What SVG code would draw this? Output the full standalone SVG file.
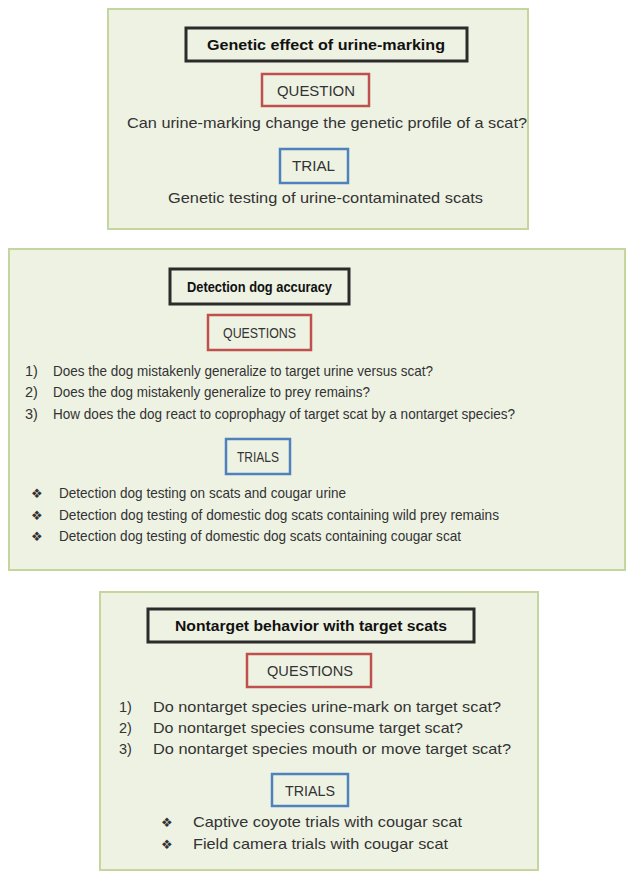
<svg xmlns="http://www.w3.org/2000/svg" width="627" height="873" viewBox="0 0 627 873">
<style>
.panel{fill:#eef2e3;stroke:#c4d69e;stroke-width:2}
.tbox{fill:#eef2e3;stroke:#2b2b2b;stroke-width:3}
.qbox{fill:#eef2e3;stroke:#c0504d;stroke-width:2.5}
.rbox{fill:#eef2e3;stroke:#4f81bd;stroke-width:2.5}
text{font-family:"Liberation Sans",Arial,sans-serif;font-size:14.5px;fill:#333}
.b{font-weight:bold;fill:#111}
.c{text-anchor:middle}
.bul{font-family:"DejaVu Sans",sans-serif;font-size:13px;fill:#333}
</style>
<rect width="627" height="873" fill="#ffffff"/>
<g id="panel1">
<rect class="panel" x="108" y="9" width="420" height="220"/>
<rect class="tbox" x="186" y="28" width="281" height="33"/>
<text class="b" x="207" y="50" textLength="238" lengthAdjust="spacingAndGlyphs">Genetic effect of  urine-marking</text>
<rect class="qbox" x="262" y="74" width="107" height="32"/>
<text x="277" y="96" textLength="78" lengthAdjust="spacingAndGlyphs">QUESTION</text>
<text x="127" y="128" textLength="400" lengthAdjust="spacingAndGlyphs">Can urine-marking change the genetic profile of a scat?</text>
<rect class="rbox" x="280" y="149" width="68" height="34"/>
<text x="292" y="171" textLength="43" lengthAdjust="spacingAndGlyphs">TRIAL</text>
<text x="168" y="203" textLength="315" lengthAdjust="spacingAndGlyphs">Genetic testing of urine-contaminated scats</text>
</g>
<g id="panel2">
<rect class="panel" x="9" y="249" width="616" height="321"/>
<rect class="tbox" x="170" y="269" width="179" height="35"/>
<text class="b" x="187" y="292" textLength="145" lengthAdjust="spacingAndGlyphs">Detection dog accuracy</text>
<rect class="qbox" x="208" y="315" width="103" height="35"/>
<text x="223" y="338" textLength="73" lengthAdjust="spacingAndGlyphs">QUESTIONS</text>
<text x="25" y="376">1)</text>
<text x="53" y="376" textLength="380" lengthAdjust="spacingAndGlyphs">Does the dog mistakenly generalize to target urine versus scat?</text>
<text x="25" y="397">2)</text>
<text x="53" y="397" textLength="317" lengthAdjust="spacingAndGlyphs">Does the dog mistakenly generalize to prey remains?</text>
<text x="25" y="419">3)</text>
<text x="53" y="419" textLength="462" lengthAdjust="spacingAndGlyphs">How does the dog react to coprophagy of target scat by a nontarget species?</text>
<rect class="rbox" x="226" y="439" width="64" height="35"/>
<text x="237" y="462" textLength="42" lengthAdjust="spacingAndGlyphs">TRIALS</text>
<text class="bul" x="31" y="498">❖</text>
<text x="59" y="498" textLength="287" lengthAdjust="spacingAndGlyphs">Detection dog testing on scats and cougar urine</text>
<text class="bul" x="31" y="520">❖</text>
<text x="59" y="520" textLength="440" lengthAdjust="spacingAndGlyphs">Detection dog testing of domestic dog scats containing wild prey remains</text>
<text class="bul" x="31" y="541">❖</text>
<text x="59" y="541" textLength="402" lengthAdjust="spacingAndGlyphs">Detection dog testing of domestic dog scats containing cougar scat</text>
</g>
<g id="panel3">
<rect class="panel" x="100" y="592" width="438" height="278"/>
<rect class="tbox" x="148" y="609" width="326" height="33"/>
<text class="b" x="175" y="631" textLength="272" lengthAdjust="spacingAndGlyphs">Nontarget behavior with target scats</text>
<rect class="qbox" x="247" y="654" width="124" height="33"/>
<text x="267" y="676" textLength="86" lengthAdjust="spacingAndGlyphs">QUESTIONS</text>
<text x="119" y="712">1)</text>
<text x="153" y="712" textLength="348" lengthAdjust="spacingAndGlyphs">Do nontarget species urine-mark on target scat?</text>
<text x="119" y="733">2)</text>
<text x="153" y="733" textLength="310" lengthAdjust="spacingAndGlyphs">Do nontarget species consume target scat?</text>
<text x="119" y="754">3)</text>
<text x="153" y="754" textLength="358" lengthAdjust="spacingAndGlyphs">Do nontarget species mouth or move target scat?</text>
<rect class="rbox" x="272" y="774" width="76" height="32"/>
<text x="285" y="796" textLength="50" lengthAdjust="spacingAndGlyphs">TRIALS</text>
<text class="bul" x="161" y="827">❖</text>
<text x="193" y="827" textLength="269" lengthAdjust="spacingAndGlyphs">Captive coyote trials with cougar scat</text>
<text class="bul" x="161" y="849">❖</text>
<text x="193" y="849" textLength="255" lengthAdjust="spacingAndGlyphs">Field camera trials with cougar scat</text>
</g>
<g id="connectors"/>
</svg>
